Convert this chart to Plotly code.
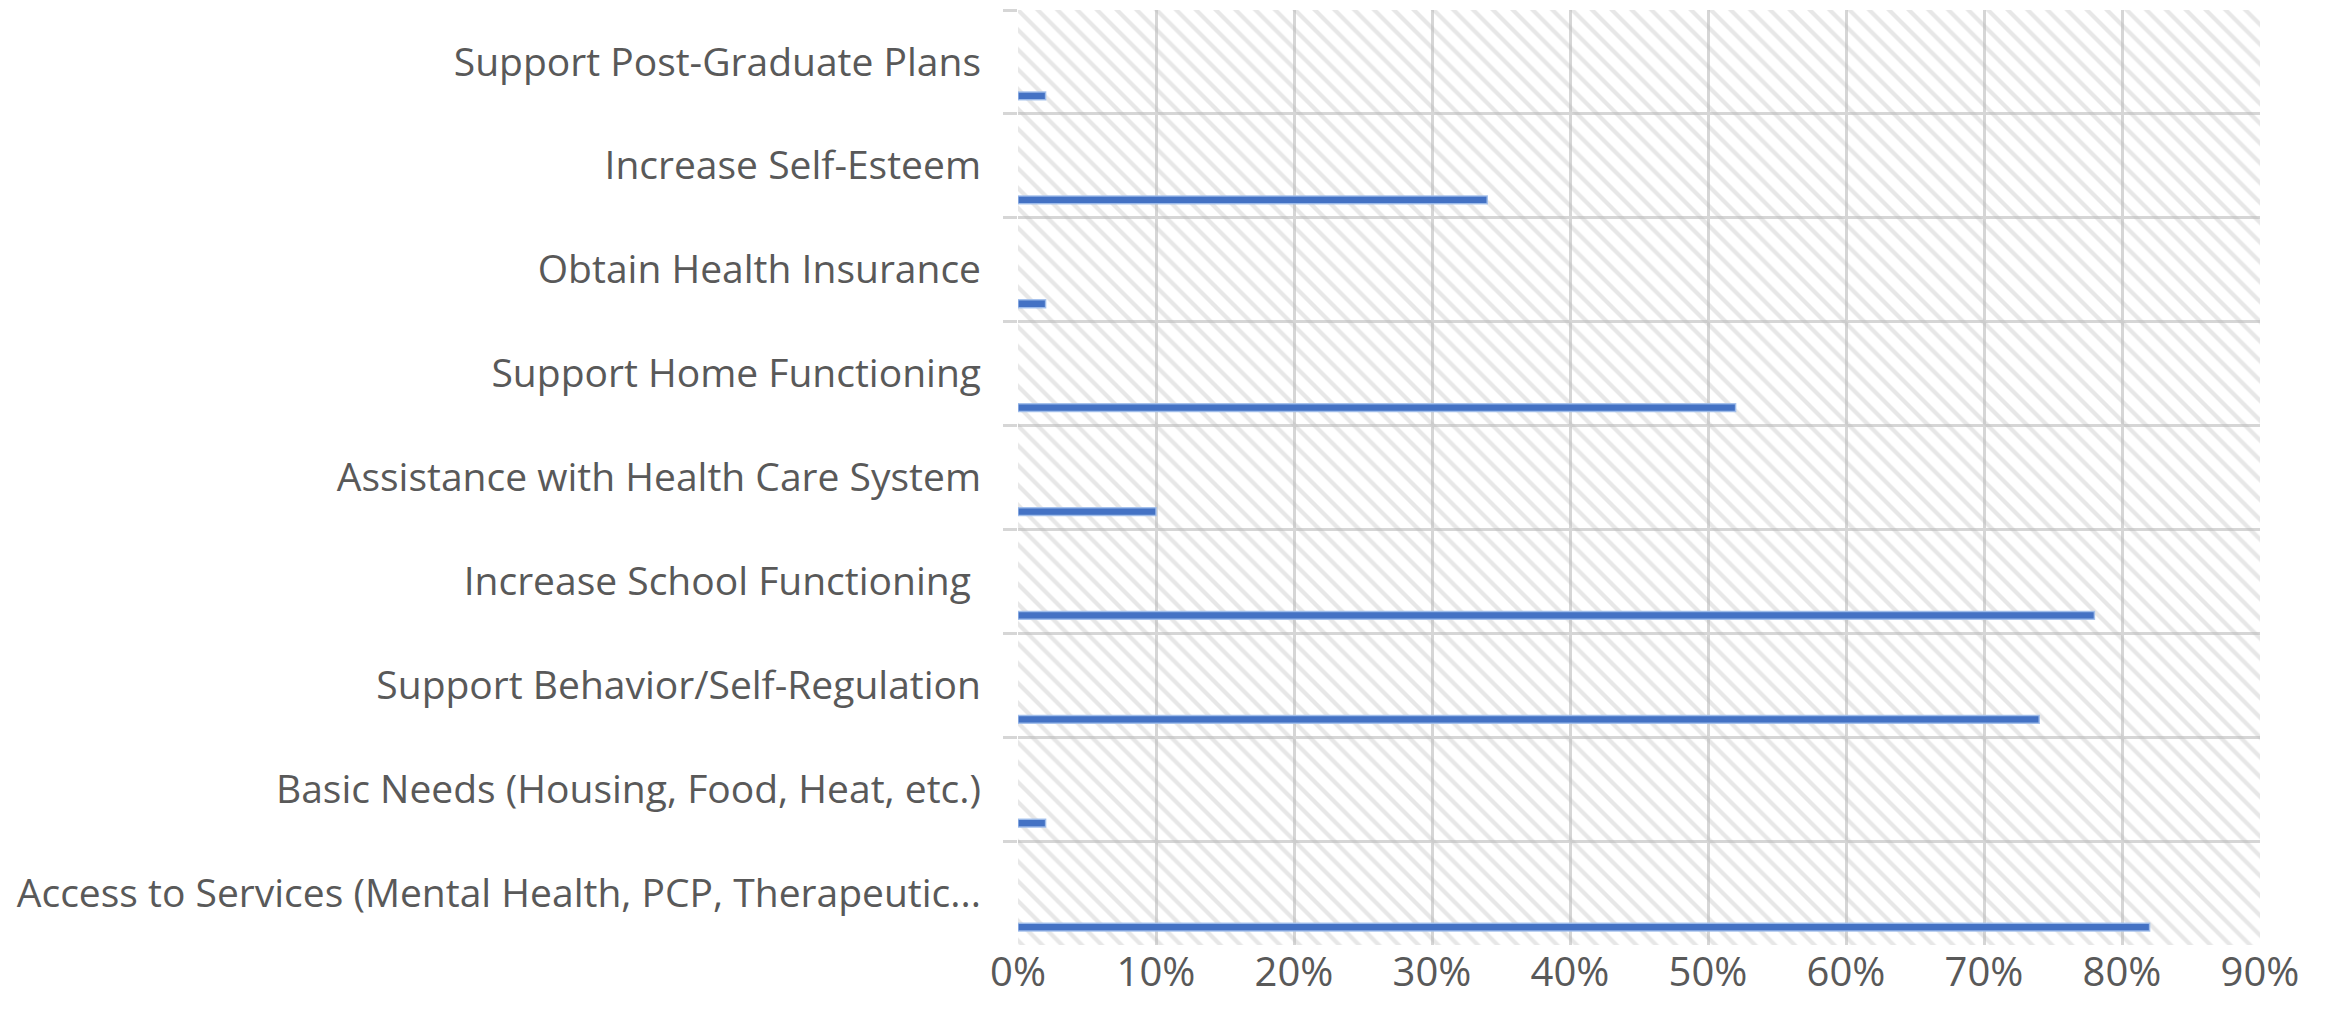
import plotly.graph_objects as go

categories = [
    "Support Post-Graduate Plans",
    "Increase Self-Esteem",
    "Obtain Health Insurance",
    "Support Home Functioning",
    "Assistance with Health Care System",
    "Increase School Functioning\u00a0",
    "Support Behavior/Self-Regulation",
    "Basic Needs (Housing, Food, Heat, etc.)",
    "Access to Services (Mental Health, PCP, Therapeutic...",
]
values = [2, 34, 2, 52, 10, 78, 74, 2, 82]
tick_vals = [0, 10, 20, 30, 40, 50, 60, 70, 80, 90]
tick_text = ["0%", "10%", "20%", "30%", "40%", "50%", "60%", "70%", "80%", "90%"]

xmax = tick_vals[-1]
FONT = "Open Sans"
TXT = "#595959"
GRID = "#d6d6d6"

fig = go.Figure()

# hatched plot-area background
fig.add_trace(go.Bar(
    y=categories, x=[xmax] * len(categories), orientation="h",
    width=1.0, offset=-0.5,
    marker=dict(color="rgba(0,0,0,0)", line=dict(width=0),
                pattern=dict(shape="\\", fgcolor="rgba(185,185,185,0.7)",
                             bgcolor="rgba(0,0,0,0)", size=14, solidity=0.3)),
    hoverinfo="skip", showlegend=False,
))

fig.add_trace(go.Bar(
    y=categories, x=values, orientation="h",
    width=0.075, offset=0.29,
    marker=dict(color="#4472C4", line=dict(color="rgba(160,190,235,0.9)", width=1.5)),
    showlegend=False,
))

fig.update_layout(
    width=2325, height=1027,
    margin=dict(l=1018, r=65, t=10, b=82, autoexpand=False),
    paper_bgcolor="white", plot_bgcolor="white",
    barmode="overlay",
    font=dict(family=FONT, size=39, color=TXT),
    xaxis=dict(range=[0, xmax], tickvals=tick_vals, ticktext=tick_text,
               showgrid=True, gridcolor=GRID, gridwidth=3,
               zeroline=False, showline=False, ticks="",
               ticklabelstandoff=0, automargin=False,
               tickfont=dict(family=FONT, size=40, color=TXT)),
    yaxis=dict(type="category", categoryorder="array", categoryarray=categories,
               autorange="reversed", tickson="boundaries",
               showgrid=True, gridcolor=GRID, gridwidth=3,
               ticks="outside", ticklen=14, tickwidth=3, tickcolor=GRID,
               showline=False, zeroline=False, automargin=False,
               ticklabelstandoff=36,
               tickfont=dict(family=FONT, size=39, color=TXT)),
)

fig.write_html("out.html")
